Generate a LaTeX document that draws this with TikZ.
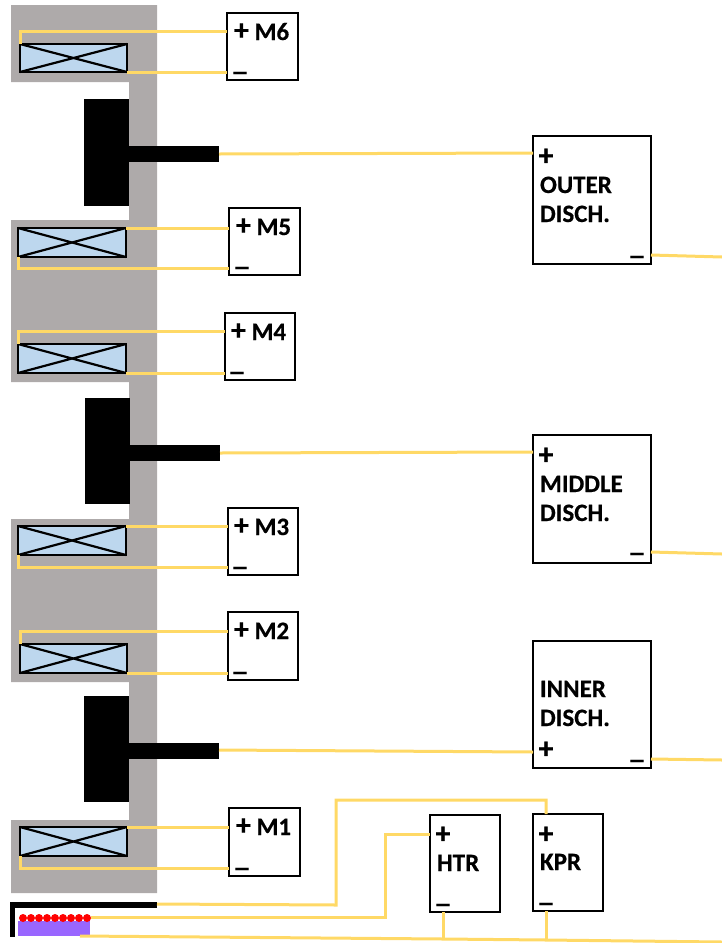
\documentclass[tikz,border=0pt]{standalone}
\usepackage{fontspec}
\usepackage{graphicx}
\setmainfont[BoldFeatures={FakeBold=0.5}]{Carlito}
\definecolor{wirey}{HTML}{FFD966}
\definecolor{steel}{HTML}{AEAAAA}
\definecolor{coilb}{HTML}{BDD7EE}
\definecolor{heatp}{HTML}{9966FF}
\tikzset{
  outer sep=0pt,
  psbox/.style={draw=black,line width=2.6pt,fill=white,inner sep=0pt},
  coilbox/.style={draw=black,line width=2.6pt,fill=coilb,inner sep=0pt},
  solidblk/.style={fill=black,inner sep=0pt},
  wire/.style={draw=wirey,line width=3pt},
  lbl/.style={font=\bfseries\fontsize{25}{30}\selectfont,inner sep=0pt,anchor=base west,align=left},
  sgn/.style={font=\bfseries\fontsize{25}{30}\selectfont,inner sep=0pt,anchor=center},
  dot/.style={circle,fill=red,minimum size=8pt,inner sep=0pt}
}
\newcommand{\minussign}{\scalebox{1.5}[1]{–}}
\newcommand{\plussign}{\scalebox{1.2}{+}}
% rectangular node given by its corners: style, name, x1, y1, x2, y2
\newcommand{\rectnode}[6]{%
  \pgfmathsetmacro{\rw}{#5-#3}\pgfmathsetmacro{\rh}{#6-#4}%
  \pgfmathsetmacro{\rx}{(#3+#5)/2}\pgfmathsetmacro{\ry}{(#4+#6)/2}%
  \node[#1,minimum width=\rw pt,minimum height=\rh pt] (#2) at (\rx,\ry) {};}
\newcommand{\coilnode}[5]{%
  \rectnode{coilbox}{#1}{#2}{#3}{#4}{#5}
  \draw[black,line width=2.2pt] (#1.north west) -- (#1.south east) (#1.south west) -- (#1.north east);}
\begin{document}
\begin{tikzpicture}[x=1pt,y=-1pt]
\useasboundingbox (0,0) rectangle (722,943);
% iron
\fill[steel] (11,5) -| (157,893) -| (11,820) -| (129,682) -| (11,519) -| (129,382) -| (11,220) -| (129,82) -| cycle;
% discharge plates
\rectnode{solidblk}{p1}{84}{99}{129}{206}
\rectnode{solidblk}{s1}{129}{146}{219}{162}
\rectnode{solidblk}{p2}{85}{398}{130}{504}
\rectnode{solidblk}{s2}{130}{445}{220}{461}
\rectnode{solidblk}{p3}{84}{696}{129}{802}
\rectnode{solidblk}{s3}{129}{743}{219}{759}
% plate and heater
\rectnode{solidblk}{tp}{10}{902}{157}{908}
\rectnode{solidblk}{lp}{10}{902}{15}{937}
\rectnode{fill=heatp,inner sep=0pt}{hp}{18}{921}{90}{936}
\foreach \i in {0,...,8} \node[dot] (d\i) at (23+8*\i,918) {};
% coils
\coilnode{c6}{20}{44}{127}{72}
\coilnode{c5}{18}{228}{126}{257}
\coilnode{c4}{18}{344}{126}{373}
\coilnode{c3}{18}{526}{126}{555}
\coilnode{c2}{20}{644}{127}{673}
\coilnode{c1}{20}{827}{127}{856}
% supply boxes
\rectnode{psbox}{m6}{227}{13}{298}{80}
\rectnode{psbox}{m5}{229}{208}{300}{275}
\rectnode{psbox}{m4}{225}{313}{295}{380}
\rectnode{psbox}{m3}{228}{508}{298}{575}
\rectnode{psbox}{m2}{228}{612}{298}{680}
\rectnode{psbox}{m1}{229}{808}{300}{876}
\rectnode{psbox}{ou}{533}{136}{651}{264}
\rectnode{psbox}{mi}{533}{435}{651}{563}
\rectnode{psbox}{in}{533}{641}{651}{768}
\rectnode{psbox}{ht}{430}{815}{500}{912}
\rectnode{psbox}{kp}{533}{814}{603}{911}
% free ends at the right edge and elsewhere
\coordinate (eo) at (722,257);
\coordinate (em) at (722,554);
\coordinate (ei) at (722,760);
\coordinate (eb) at (722,942);
\coordinate (bs) at (80,936);
\coordinate (jh) at (443,939);
\coordinate (jk) at (546,940);
% coil wires
\draw[wire] (c6.north west) |- (m6.west |- 0,31);
\draw[wire] (c6.south east |- 0,72) -- (m6.west |- 0,72);
\draw[wire] (c5.north east) -- (m5.west |- c5.north east);
\draw[wire] (c5.south west) |- (m5.west |- 0,268);
\draw[wire] (c4.north west) |- (m4.west |- 0,331);
\draw[wire] (c4.south east) -- (m4.west |- c4.south east);
\draw[wire] (c3.north east) -- (m3.west |- c3.north east);
\draw[wire] (c3.south west) |- (m3.west |- 0,567);
\draw[wire] (c2.north west) |- (m2.west |- 0,631);
\draw[wire] (c2.south east) -- (m2.west |- c2.south east);
\draw[wire] (c1.north east) -- (m1.west |- c1.north east);
\draw[wire] (c1.south west) |- (m1.west |- 0,868);
% discharge wires
\draw[wire] (s1.east |- 0,154) -- (ou.west |- 0,153);
\draw[wire] (ou.east |- 0,255) -- (eo);
\draw[wire] (s2.east |- 0,453) -- (mi.west |- 0,452);
\draw[wire] (mi.east |- 0,552) -- (em);
\draw[wire] (s3.east |- 0,750) -- (in.west |- 0,752);
\draw[wire] (in.east |- 0,759) -- (ei);
% plate, heater, keeper wires
\draw[wire] (tp.east |- 0,904) -- (336,905) |- (546,800) -- (546,814);
\draw[wire] (d8.east |- 0,917) -- (385,917) |- (ht.west |- 0,834);
\draw[wire] (bs) -- (jh) -- (jk) -- (eb);
\draw[wire] (ht.south -| jh) -- (jh);
\draw[wire] (kp.south -| jk) -- (jk);
% labels
\node[lbl] (t6) at (234,40) {\plussign\ M6};
\node[lbl] (t5) at (236,235) {\plussign\ M5};
\node[lbl] (t4) at (231,340) {\plussign\ M4};
\node[lbl] (t3) at (234,535) {\plussign\ M3};
\node[lbl] (t2) at (234,639) {\plussign\ M2};
\node[lbl] (t1) at (236,835) {\plussign\ M1};
\node[sgn] (n6) at (240,76) {\minussign};
\node[sgn] (n5) at (242,271) {\minussign};
\node[sgn] (n4) at (237,376) {\minussign};
\node[sgn] (n3) at (240,571) {\minussign};
\node[sgn] (n2) at (240,676) {\minussign};
\node[sgn] (n1) at (242,872) {\minussign};
\node[sgn] (po) at (546,157) {\plussign};
\node[lbl] (to) at (540,193) {OUTER};
\node[lbl] (to2) at (540,222) {DISCH.};
\node[sgn] (no) at (637,260) {\minussign};
\node[sgn] (pm) at (546,456) {\plussign};
\node[lbl] (tm) at (540,492) {MIDDLE};
\node[lbl] (tm2) at (540,521) {DISCH.};
\node[sgn] (nm) at (637,557) {\minussign};
\node[lbl] (ti) at (540,697) {INNER};
\node[lbl] (ti2) at (540,726) {DISCH.};
\node[sgn] (pi) at (546,750) {\plussign};
\node[sgn] (ni) at (637,764) {\minussign};
\node[sgn] (ph) at (443,835) {\plussign};
\node[lbl] (th) at (437,871) {HTR};
\node[sgn] (nh) at (443,908) {\minussign};
\node[sgn] (pk) at (546,835) {\plussign};
\node[lbl] (tk) at (540,870) {KPR};
\node[sgn] (nk) at (546,907) {\minussign};
\end{tikzpicture}
\end{document}
